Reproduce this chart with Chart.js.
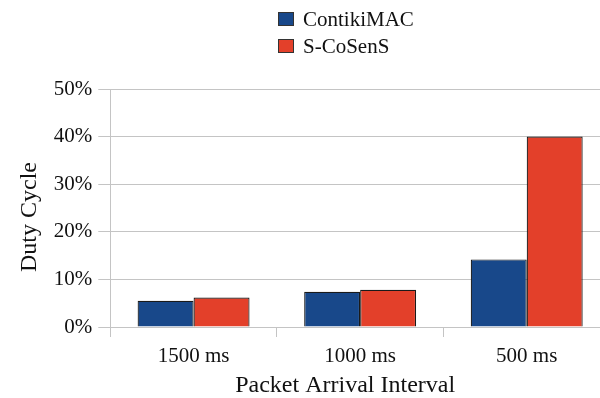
<!DOCTYPE html>
<html>
<head>
<meta charset="utf-8">
<script src="https://cdn.jsdelivr.net/npm/chart.js@4/dist/chart.umd.min.js"></script>
<style>
  html, body { margin: 0; padding: 0; background: #fff; overflow: hidden; }
  #wrap { width: 612px; height: 398px; }
</style>
</head>
<body>
<div id="wrap"><canvas id="chart"></canvas></div>
<script>
const categories = ['1500 ms', '1000 ms', '500 ms'];
const contikiValues = [5.5, 7.4, 14.2];
const cosensValues = [6.2, 7.8, 40];
const seriesNames = ['ContikiMAC', 'S-CoSenS'];
const seriesColors = ['#18488a', '#e3402a'];

const serif = "'Liberation Serif', 'DejaVu Serif', serif";
const gridColor = '#c4c4c4';

// legend stacked vertically above the plot, like the original
const stackedLegend = {
    id: 'stackedLegend',
    afterDraw: function(chart) {
        const ctx = chart.ctx;
        ctx.save();
        ctx.font = '21px ' + serif;
        ctx.textBaseline = 'middle';
        chart.data.datasets.forEach((ds, i) => {
            const y = 19 + i * 27;
            ctx.fillStyle = ds.backgroundColor;
            ctx.fillRect(278, y - 7, 16, 14);
            ctx.strokeStyle = '#333';
            ctx.lineWidth = 1;
            ctx.strokeRect(278.5, y - 6.5, 15, 13);
            ctx.fillStyle = '#111';
            ctx.fillText(ds.label, 303, y + 1);
        });
        ctx.restore();
    }
};

new Chart(document.getElementById('chart'), {
    type: 'bar',
    data: {
        labels: categories,
        datasets: [{
            label: seriesNames[0],
            data: contikiValues,
            backgroundColor: seriesColors[0],
            borderColor: '#1a1a1a',
            borderWidth: 1.2
        }, {
            label: seriesNames[1],
            data: cosensValues,
            backgroundColor: seriesColors[1],
            borderColor: '#1a1a1a',
            borderWidth: 1.2
        }]
    },
    options: {
        responsive: true,
        maintainAspectRatio: false,
        animation: false,
        categoryPercentage: 0.672,
        barPercentage: 1.0,
        layout: { padding: { top: 89, left: 15, right: 2, bottom: 0 } },
        scales: {
            x: {
                grid: { drawOnChartArea: false, drawTicks: true, tickLength: 10, color: gridColor, offset: true },
                border: { color: gridColor },
                ticks: { color: '#111', font: { family: serif, size: 21, lineHeight: 1 }, padding: 9 },
                // trailing spaces nudge the title left, as in the original
                title: { display: true, text: 'Packet Arrival Interval     ', color: '#111', font: { family: serif, size: 24, lineHeight: 1 }, padding: { top: -2, bottom: 0 } }
            },
            y: {
                min: 0,
                max: 50,
                grid: { color: gridColor, tickLength: 12 },
                border: { color: gridColor },
                ticks: {
                    stepSize: 5,
                    color: '#111',
                    font: { family: serif, size: 21 },
                    padding: 6,
                    callback: v => (v % 10 === 0 ? v + '%' : '')
                },
                title: { display: true, text: 'Duty Cycle   ', color: '#111', font: { family: serif, size: 24 }, padding: { top: 0, bottom: 4 } }
            }
        },
        plugins: {
            legend: { display: false },
            tooltip: { enabled: false }
        }
    },
    plugins: [stackedLegend]
});
</script>
</body>
</html>
